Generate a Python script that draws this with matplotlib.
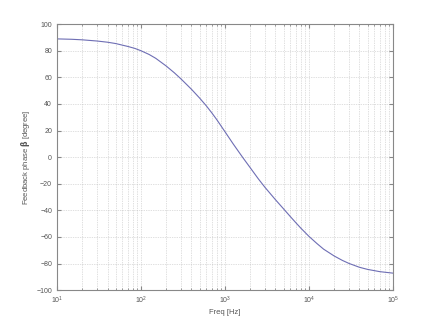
import numpy as np
import matplotlib
matplotlib.use('Agg')
import matplotlib.pyplot as plt

# values
freq = [10, 15, 20, 30, 40, 50, 70, 85, 100, 125, 150, 200, 250, 300, 400,
        500, 600, 700, 800, 1000, 1250, 1620, 2000, 2500, 3000, 4000, 5000,
        6000, 7000, 8000, 10000, 12500, 15000, 20000, 25000, 30000, 40000,
        50000, 70000, 100000]
phase = [88.9, 88.6, 88.2, 87.3, 86.4, 85.4, 83.2, 81.7, 80.0, 77.2, 74.3,
         68.5, 63.4, 58.8, 51.0, 44.4, 38.6, 33.2, 28.2, 19.2, 10.1, 0.0,
         -7.9, -16.3, -22.7, -32.0, -38.9, -44.6, -49.3, -53.3, -59.5,
         -65.0, -69.2, -74.3, -77.6, -79.9, -82.8, -84.4, -86.1, -87.2]

yticks = np.arange(-100, 101, 20)

plt.rcParams['font.family'] = ['Liberation Sans', 'DejaVu Sans']
txt = '#555555'

fig = plt.figure(figsize=(4.35, 3.26), dpi=100)
ax = fig.add_axes([0.131, 0.110, 0.772, 0.816])

ax.semilogx(freq, phase, color='#6e6eb4', lw=0.8)
ax.set_xlim(10, 1e5)
ax.set_ylim(-100, 100)
ax.set_yticks(yticks)

ax.grid(True, which='major', ls=(0, (1, 1.5)), color='#c0c0c0', lw=0.5)
ax.grid(True, which='minor', axis='x', ls=(0, (1, 1.5)), color='#c0c0c0', lw=0.5)

for s in ax.spines.values():
    s.set_color('#888888')
    s.set_linewidth(0.8)
ax.tick_params(which='both', direction='in', top=True, right=True,
               colors='#888888', labelcolor=txt, labelsize=5)
ax.tick_params(which='major', length=3)
ax.tick_params(which='minor', length=1.5)

ax.set_xlabel('Freq [Hz]', fontsize=5.5, color=txt, labelpad=2)
ax.set_ylabel(r'Feedback phase $\mathbf{\beta}$ [degree]', fontsize=5.5,
              color=txt, labelpad=3)

fig.savefig('out.png', dpi=100)
